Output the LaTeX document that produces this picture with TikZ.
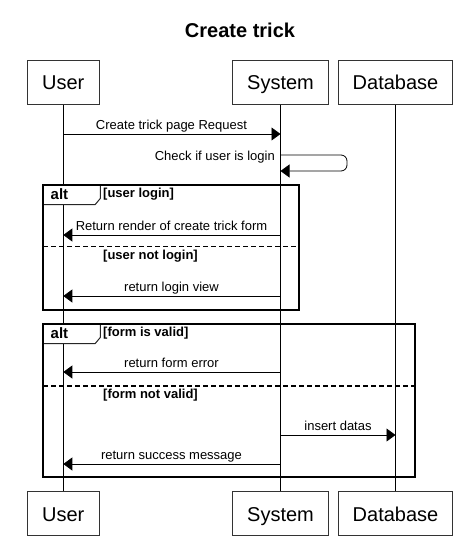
\documentclass[tikz,border=0pt]{standalone}
\usepackage{fontspec}
\setmainfont{Liberation Sans}
\usetikzlibrary{arrows.meta}
\begin{document}
\begin{tikzpicture}[x=1pt,y=-1pt,
  part/.style={draw=black!80,line width=0.8pt,minimum height=44.5pt,inner sep=0pt,outer sep=0pt,text height=15pt,text depth=0pt,font=\fontsize{20}{22}\selectfont},
  life/.style={line width=0.8pt},
  msg/.style={line width=0.8pt,-{Triangle[length=9pt,width=13pt]}},
  msgtext/.style={inner sep=0pt,anchor=base,font=\fontsize{13}{15}\selectfont},
  frame/.style={draw,line width=1.6pt,inner sep=0pt,outer sep=0pt},
  tab/.style={line width=1pt,draw=black!85,fill=white},
  divider/.style={line width=1.6pt,dash pattern=on 5pt off 3pt},
  guard/.style={inner sep=0pt,anchor=base west,font=\fontsize{13}{15}\selectfont\bfseries},
  alttext/.style={inner sep=0pt,anchor=base west,font=\fontsize{15}{18}\selectfont\bfseries}
]
\useasboundingbox (0,0) rectangle (474,558);
\node[font=\fontsize{20}{24}\selectfont\bfseries,inner sep=0pt] (title) at (240,30) {Create trick};

% participants
\node[part,minimum width=71.5pt] (uT) at (63.3,82.25) {User};
\node[part,minimum width=95.5pt] (sT) at (280.5,82.25) {System};
\node[part,minimum width=114.5pt] (dT) at (395.5,82.25) {Database};
\node[part,minimum width=71.5pt] (uB) at (63.3,513.5) {User};
\node[part,minimum width=95.5pt] (sB) at (280.5,513.5) {System};
\node[part,minimum width=114.5pt] (dB) at (395.5,513.5) {Database};

\draw[life] (uT.south) -- (uB.north);
\draw[life] (sT.south) -- (sB.north);
\draw[life] (dT.south) -- (dB.north);

% message 1
\coordinate (m1a) at (63.3,134);
\coordinate (m1b) at (280.5,134);
\draw[msg] (m1a) -- (m1b);
\node[msgtext] (t1) at (171.5,129.8) {Create trick page Request};

% self message
\coordinate (m2a) at (280.5,155);
\coordinate (m2b) at (280.5,171);
\draw[msg,rounded corners=6pt] (m2a) -- ++(66.5,0) -- ++(0,16) -- (m2b);
\node[msgtext,anchor=base east] (t2) at (275,160) {Check if user is login};

% alt frame 1
\coordinate (f1nw) at (43.25,185);
\filldraw[tab] (f1nw) -- ++(57,0) -- ++(0,13.5) -- ++(-5,6) -- ++(-52,0) -- cycle;
\node[frame,minimum width=256pt,minimum height=125pt] (f1) at (171.25,247.5) {};
\node[alttext] (a1) at (50.5,199.5) {alt};
\node[guard] (g1) at (103,197) {[user login]};
\coordinate (m3a) at (280.5,235);
\coordinate (m3b) at (63.3,235);
\draw[msg] (m3a) -- (m3b);
\node[msgtext] (t3) at (171.5,230.5) {Return render of create trick form};
\coordinate (d1a) at (43.25,246.5);
\coordinate (d1b) at (299.25,246.5);
\draw[divider] (d1a) -- (d1b);
\node[guard] (g2) at (103,259.5) {[user not login]};
\coordinate (m4a) at (280.5,296);
\coordinate (m4b) at (63.3,296);
\draw[msg] (m4a) -- (m4b);
\node[msgtext] (t4) at (171.5,291.5) {return login view};

% alt frame 2
\coordinate (f2nw) at (43.25,324);
\filldraw[tab] (f2nw) -- ++(57,0) -- ++(0,13.5) -- ++(-5,6) -- ++(-52,0) -- cycle;
\node[frame,minimum width=371.75pt,minimum height=153pt] (f2) at (229.125,400.5) {};
\node[alttext] (a2) at (50.5,338.5) {alt};
\node[guard] (g3) at (103,336) {[form is valid]};
\coordinate (m5a) at (280.5,372);
\coordinate (m5b) at (63.3,372);
\draw[msg] (m5a) -- (m5b);
\node[msgtext] (t5) at (171.5,367.5) {return form error};
\coordinate (d2a) at (43.25,386);
\coordinate (d2b) at (415,386);
\draw[divider] (d2a) -- (d2b);
\node[guard] (g4) at (103,398) {[form not valid]};
\coordinate (m6a) at (280.5,435);
\coordinate (m6b) at (395.5,435);
\draw[msg] (m6a) -- (m6b);
\node[msgtext] (t6) at (338,430.5) {insert datas};
\coordinate (m7a) at (280.5,464);
\coordinate (m7b) at (63.3,464);
\draw[msg] (m7a) -- (m7b);
\node[msgtext] (t7) at (171.5,459.5) {return success message};
\end{tikzpicture}
\end{document}
